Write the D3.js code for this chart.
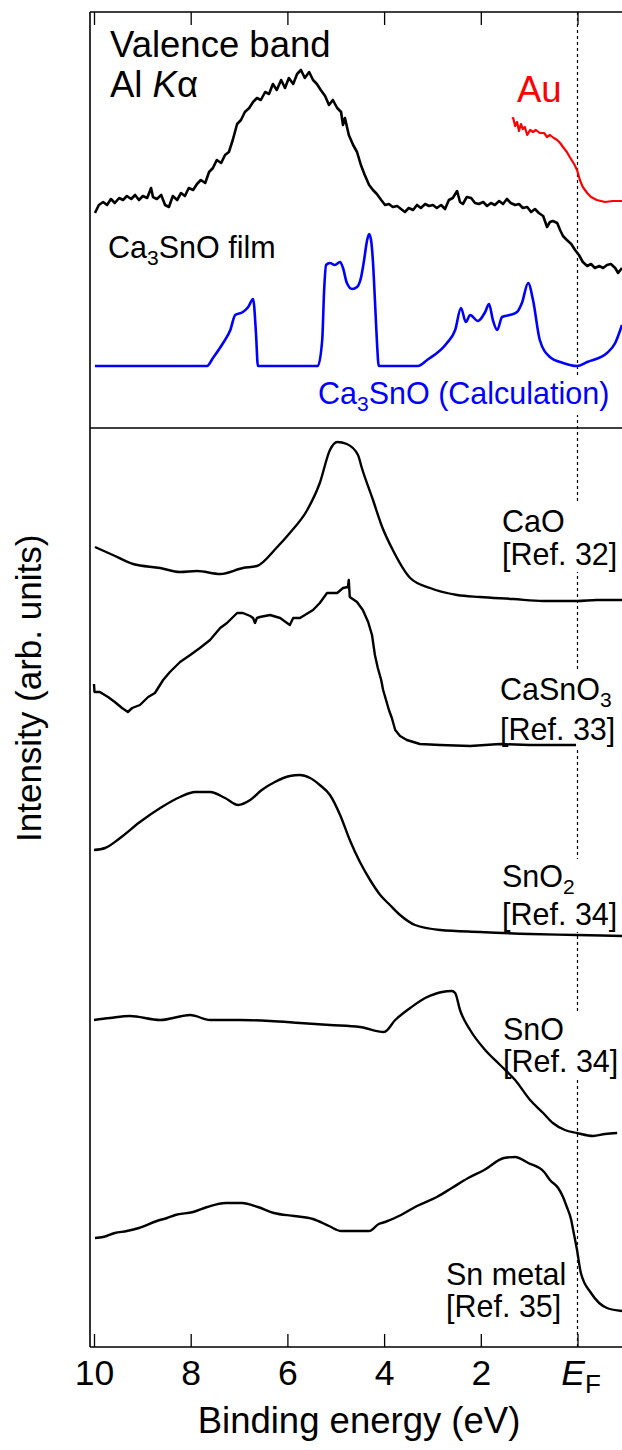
<!DOCTYPE html>
<html>
<head>
<meta charset="utf-8">
<script src="https://cdn.jsdelivr.net/npm/d3@7"></script>
<style>
  body { margin: 0; background: #fff; }
  svg text { font-family: "Liberation Sans", Arial, Helvetica, sans-serif; }
</style>
</head>
<body>
<div id="chart"></div>
<script>
// Binding energy ticks (eV) and their labels
const energyTicks = [10, 8, 6, 4, 2, 0];
const tickLabels = ["10", "8", "6", "4", "2", "EF"];

// Upper panel: [binding energy (eV), intensity (arb. units)]
const filmSpectrum = [[9.98,215],[9.90,223],[9.81,226],[9.73,223],[9.65,229],[9.57,225],[9.48,230],[9.40,228],[9.32,232],[9.23,229],[9.15,233],[9.07,228],[8.99,232],[8.90,230],[8.82,240],[8.78,231],[8.70,229],[8.61,233],[8.53,223],[8.45,221],[8.37,232],[8.28,228],[8.20,235],[8.12,232],[8.04,240],[7.95,238],[7.87,244],[7.79,248],[7.70,245],[7.62,256],[7.54,260],[7.46,268],[7.37,265],[7.29,273],[7.21,276],[7.13,288],[7.04,304],[6.96,308],[6.88,316],[6.79,320],[6.71,326],[6.63,330],[6.55,328],[6.46,336],[6.38,334],[6.30,344],[6.22,338],[6.13,348],[6.05,340],[5.97,350],[5.88,344],[5.80,354],[5.72,358],[5.64,350],[5.55,356],[5.47,348],[5.39,344],[5.31,338],[5.22,332],[5.14,323],[5.06,328],[4.97,320],[4.89,316],[4.85,303],[4.81,310],[4.73,293],[4.64,283],[4.56,276],[4.48,263],[4.40,253],[4.31,243],[4.23,238],[4.15,234],[4.06,228],[3.98,223],[3.90,224],[3.82,221],[3.73,222],[3.65,219],[3.57,216],[3.49,220],[3.40,218],[3.32,223],[3.24,220],[3.15,224],[3.07,222],[2.99,223],[2.91,220],[2.82,223],[2.74,219],[2.66,228],[2.58,230],[2.49,237],[2.43,226],[2.37,224],[2.29,231],[2.20,230],[2.12,225],[2.04,224],[1.95,226],[1.87,222],[1.79,225],[1.71,223],[1.62,227],[1.54,224],[1.46,229],[1.38,225],[1.29,223],[1.21,224],[1.13,220],[1.04,221],[0.96,216],[0.88,219],[0.80,215],[0.71,212],[0.63,201],[0.57,206],[0.51,207],[0.42,205],[0.36,198],[0.30,192],[0.22,188],[0.13,184],[0.05,178],[-0.03,173],[-0.11,166],[-0.20,162],[-0.28,164],[-0.36,160],[-0.45,162],[-0.53,160],[-0.61,163],[-0.69,164],[-0.78,160],[-0.84,155],[-0.92,160]];

const auSpectrum = [[1.35,309],[1.33,310],[1.29,302],[1.25,306],[1.21,297],[1.17,304],[1.13,299],[1.09,301],[1.04,293],[0.98,298],[0.92,296],[0.86,298],[0.78,295],[0.69,295],[0.63,291],[0.57,293],[0.49,290],[0.42,288],[0.36,285],[0.30,281],[0.22,276],[0.16,271],[0.07,264],[0.01,258],[-0.05,248],[-0.11,241],[-0.20,235],[-0.28,231],[-0.40,228],[-0.57,226],[-0.73,227],[-0.92,227]];

const calcDos = [[9.98,62],[7.66,62],[7.54,70],[7.33,85],[7.18,98],[7.08,113],[6.92,116],[6.81,121],[6.71,129],[6.65,95],[6.61,62],[5.37,62],[5.28,88],[5.24,138],[5.20,163],[5.12,165],[5.02,163],[4.91,166],[4.85,160],[4.77,145],[4.66,139],[4.56,141],[4.48,150],[4.42,166],[4.35,188],[4.31,194],[4.27,188],[4.23,166],[4.19,128],[4.15,88],[4.11,62],[3.30,62],[3.11,68],[2.70,85],[2.53,98],[2.41,120],[2.31,106],[2.22,113],[2.06,107],[1.91,116],[1.83,124],[1.75,108],[1.66,98],[1.56,111],[1.40,113],[1.25,116],[1.15,125],[1.02,145],[0.92,128],[0.78,88],[0.57,71],[0.30,65],[0.01,62],[-0.20,66],[-0.61,75],[-0.78,85],[-0.92,103]];

// Lower panel reference spectra
const caoSpectrum = [[9.98,800],[9.61,792],[9.19,783],[8.63,779],[8.22,775],[7.87,776],[7.39,773],[6.92,779],[6.63,781],[6.21,800],[5.95,814],[5.59,837],[5.33,864],[5.12,897],[4.97,905],[4.77,903],[4.54,892],[4.46,879],[4.23,847],[4.04,820],[3.82,797],[3.46,769],[3.05,759],[2.49,752],[2.02,750],[1.33,748],[0.71,746],[0.01,746],[-0.40,747],[-0.92,747]];

const casno3Spectrum = [[10.0,663],[9.99,655],[9.88,655],[9.71,650],[9.57,645],[9.42,639],[9.30,635],[9.21,639],[9.05,642],[8.88,650],[8.74,654],[8.57,667],[8.43,675],[8.22,685],[8.01,692],[7.81,699],[7.60,707],[7.39,719],[7.25,724],[7.04,734],[6.92,734],[6.77,731],[6.71,729],[6.67,724],[6.63,729],[6.57,730],[6.36,732],[6.15,729],[5.95,722],[5.88,729],[5.74,729],[5.47,737],[5.33,744],[5.18,754],[4.97,754],[4.85,759],[4.75,760],[4.73,767],[4.71,750],[4.56,745],[4.44,737],[4.33,725],[4.25,712],[4.19,692],[4.13,679],[4.06,667],[4.02,657],[3.96,647],[3.90,637],[3.84,629],[3.77,617],[3.67,611],[3.53,607],[3.26,603],[2.84,602],[2.22,601],[1.60,603],[0.98,602],[0.36,602],[0.03,602]];

const sno2Spectrum = [[10.0,497],[9.77,499],[9.46,509],[9.05,525],[8.63,539],[8.22,550],[7.91,555],[7.60,555],[7.29,549],[7.02,542],[6.77,547],[6.53,557],[6.26,565],[5.95,571],[5.74,572],[5.53,569],[5.33,562],[5.12,552],[4.91,532],[4.71,507],[4.50,485],[4.29,467],[4.08,452],[3.88,442],[3.67,432],[3.36,422],[2.84,417],[2.02,415],[0.98,413],[0.01,412],[-0.92,411]];

const snoSpectrum = [[10.0,327],[9.67,329],[9.26,331],[8.63,327],[8.01,332],[7.60,327],[6.98,327],[6.36,326],[5.74,324],[5.12,322],[4.50,320],[4.00,315],[3.77,327],[3.46,339],[3.15,349],[2.95,353],[2.80,355],[2.60,356],[2.53,354],[2.43,337],[2.22,317],[1.91,297],[1.60,282],[1.29,267],[0.98,247],[0.71,234],[0.51,224],[0.26,217],[0.01,214],[-0.32,211],[-0.57,213],[-0.82,214]];

const snMetalSpectrum = [[9.98,109],[9.81,110],[9.57,114],[9.32,116],[9.07,119],[8.70,126],[8.49,129],[8.32,132],[7.95,135],[7.66,140],[7.27,144],[6.94,144],[6.61,140],[6.28,134],[5.86,131],[5.47,128],[5.14,121],[4.89,116],[4.31,116],[4.11,123],[3.98,125],[3.65,132],[3.32,141],[2.91,150],[2.60,159],[2.26,169],[1.93,177],[1.52,189],[1.29,190],[1.02,184],[0.69,175],[0.57,167],[0.40,159],[0.30,150],[0.22,140],[0.13,127],[0.09,117],[0.01,97],[-0.07,74],[-0.28,54],[-0.61,39],[-0.92,36]];

// Layout
const width = 622, height = 1450;
const frame = { left: 90, right: 622, top: 12, split: 428, bottom: 1347 };

const svg = d3.select("#chart")
    .append("svg")
    .attr("width", width)
    .attr("height", height);

// Scales: energy axis reversed, two stacked intensity panels
const x = d3.scaleLinear().domain([10, 0]).range([94, 577.5]);
const yTop = d3.scaleLinear().domain([0, 416]).range([frame.split, frame.top]);
const yBot = d3.scaleLinear().domain([0, 919]).range([frame.bottom, frame.split]);

// Fermi level marker
svg.append("line")
    .attr("x1", x(0)).attr("x2", x(0))
    .attr("y1", frame.top).attr("y2", frame.bottom)
    .attr("stroke", "#000")
    .attr("stroke-width", 1.2)
    .attr("stroke-dasharray", "3,3");

// Text labels (some with white background, hiding the dotted line)
function addLabel(xPos, yPos, lines, opts) {
    const g = svg.append("g");
    const bg = g.append("rect").attr("fill", "#fff");
    const text = g.append("text")
        .attr("x", xPos)
        .attr("y", yPos)
        .attr("fill", opts.color || "#000")
        .style("font-size", opts.size + "px");
    lines.forEach((parts, i) => {
        parts.forEach((p, j) => {
            const t = text.append("tspan").text(p.t);
            if (j === 0) t.attr("x", xPos).attr("dy", i === 0 ? 0 : opts.lineHeight);
            if (p.italic) t.style("font-style", "italic");
            if (p.sub) t.style("font-size", Math.round(opts.size * 0.7) + "px").attr("dy", 7);
            if (p.afterSub) t.attr("dy", -7);
        });
    });
    if (opts.background) {
        const b = text.node().getBBox();
        bg.attr("x", b.x - 3).attr("y", b.y).attr("width", b.width + 6).attr("height", b.height);
    }
}

addLabel(110, 57, [[{ t: "Valence band" }], [{ t: "Al " }, { t: "K", italic: true }, { t: "α" }]],
    { size: 36.5, lineHeight: 40 });
addLabel(517, 102, [[{ t: "Au" }]], { size: 36.5, color: "#ff0000" });
addLabel(108, 258, [[{ t: "Ca" }, { t: "3", sub: true }, { t: "SnO film", afterSub: true }]], { size: 30.5 });
addLabel(318, 404, [[{ t: "Ca" }, { t: "3", sub: true }, { t: "SnO (Calculation)", afterSub: true }]],
    { size: 30.5, color: "#0000ff", background: true });

addLabel(502, 532, [[{ t: "CaO" }], [{ t: "[Ref. 32]" }]], { size: 30.5, lineHeight: 33, background: true });
addLabel(500, 700, [[{ t: "CaSnO" }, { t: "3", sub: true }], [{ t: "[Ref. 33]" }]],
    { size: 30.5, lineHeight: 33, background: true });
addLabel(502, 887, [[{ t: "SnO" }, { t: "2", sub: true }], [{ t: "[Ref. 34]" }]],
    { size: 30.5, lineHeight: 31, background: true });
addLabel(503, 1040, [[{ t: "SnO" }], [{ t: "[Ref. 34]" }]], { size: 30.5, lineHeight: 32, background: true });
addLabel(446, 1285, [[{ t: "Sn metal" }], [{ t: "[Ref. 35]" }]], { size: 30.5, lineHeight: 32 });

// Spectra
const lineTop = d3.line().x(d => x(d[0])).y(d => yTop(d[1]));
const lineBot = d3.line().x(d => x(d[0])).y(d => yBot(d[1]));
const smoothTop = d3.line().x(d => x(d[0])).y(d => yTop(d[1])).curve(d3.curveMonotoneX);
const smoothBot = d3.line().x(d => x(d[0])).y(d => yBot(d[1])).curve(d3.curveMonotoneX);

const spectra = [
    { data: calcDos, gen: smoothTop, color: "#0000ff", w: 2.6 },
    { data: filmSpectrum, gen: lineTop, color: "#000", w: 2.6 },
    { data: auSpectrum, gen: lineTop, color: "#ff0000", w: 2.2 },
    { data: caoSpectrum, gen: smoothBot, color: "#000", w: 2.4 },
    { data: casno3Spectrum, gen: lineBot, color: "#000", w: 2.4 },
    { data: sno2Spectrum, gen: smoothBot, color: "#000", w: 2.4 },
    { data: snoSpectrum, gen: smoothBot, color: "#000", w: 2.4 },
    { data: snMetalSpectrum, gen: smoothBot, color: "#000", w: 2.4 }
];

svg.selectAll(".spectrum")
    .data(spectra)
    .enter()
    .append("path")
    .attr("class", "spectrum")
    .attr("d", d => d.gen(d.data))
    .attr("fill", "none")
    .attr("stroke", d => d.color)
    .attr("stroke-width", d => d.w)
    .attr("stroke-linejoin", "round");

// Frame lines
const frameLines = [
    [frame.left, frame.top, frame.left, frame.bottom],
    [frame.left, frame.top, frame.right, frame.top],
    [frame.left, frame.split, frame.right, frame.split],
    [frame.left, frame.bottom, frame.right, frame.bottom]
];
svg.selectAll(".frame")
    .data(frameLines)
    .enter()
    .append("line")
    .attr("x1", d => d[0]).attr("y1", d => d[1])
    .attr("x2", d => d[2]).attr("y2", d => d[3])
    .attr("stroke", "#000")
    .attr("stroke-width", 1.6);

// Axes (inward ticks)
const xAxis = svg.append("g")
    .attr("transform", `translate(0,${frame.bottom})`)
    .call(d3.axisBottom(x).tickValues(energyTicks).tickSizeInner(-13).tickSizeOuter(0)
        .tickFormat((d, i) => tickLabels[i]));
xAxis.select(".domain").remove();
xAxis.selectAll("line").attr("stroke-width", 1.3);
xAxis.selectAll("text")
    .attr("y", 38)
    .attr("dy", null)
    .attr("fill", "#000")
    .style("font-size", "35.5px")
    .style("font-family", "'Liberation Sans', Arial, sans-serif");

// E_F label with italic E and subscript F
xAxis.selectAll("text").filter(d => d === 0)
    .text(null)
    .attr("x", 3)
    .call(t => {
        t.append("tspan").text("E").style("font-style", "italic");
        t.append("tspan").text("F").attr("dy", 8).style("font-size", "26px");
    });

const topAxis = svg.append("g")
    .attr("transform", `translate(0,${frame.top})`)
    .call(d3.axisTop(x).tickValues(energyTicks).tickSizeInner(-13).tickSizeOuter(0).tickFormat(""));
topAxis.select(".domain").remove();
topAxis.selectAll("line").attr("stroke-width", 1.3);

// Axis titles
svg.append("text")
    .attr("x", 359)
    .attr("y", 1433)
    .attr("text-anchor", "middle")
    .style("font-size", "36.5px")
    .text("Binding energy (eV)");

svg.append("text")
    .attr("transform", "translate(41,842) rotate(-90)")
    .attr("text-anchor", "start")
    .style("font-size", "35px")
    .text("Intensity (arb. units)");
</script>
</body>
</html>
